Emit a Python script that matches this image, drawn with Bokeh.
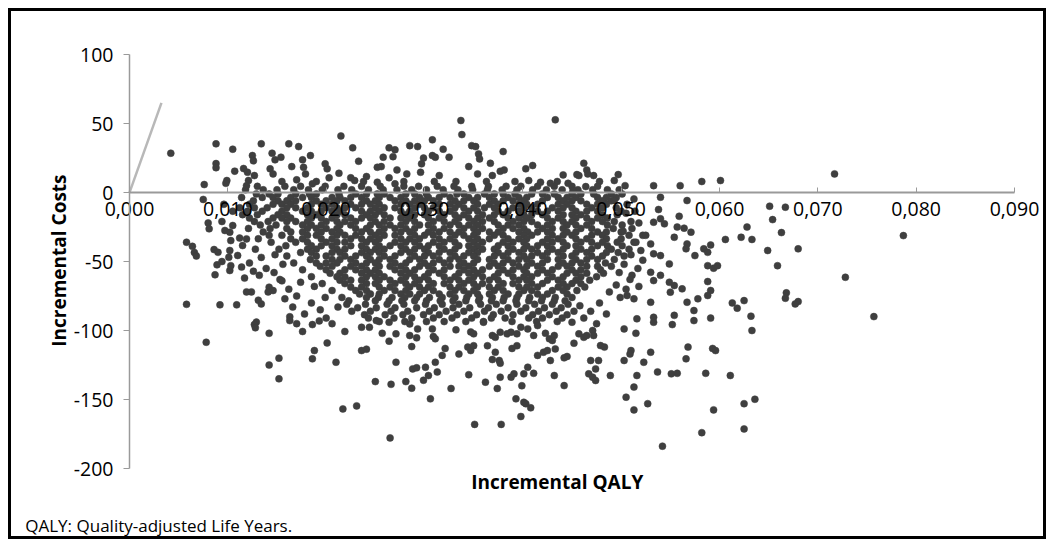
import math
from bokeh.plotting import figure
from bokeh.models import Range1d, FixedTicker, Label
from bokeh.embed import file_html
from bokeh.resources import INLINE

# ---- axes ----
x_ticks = [0, 10, 20, 30, 40, 50, 60, 70, 80, 90]          # incremental QALY in 1/1000
x_tick_labels = ["0,000", "0,010", "0,020", "0,030", "0,040", "0,050",
                 "0,060", "0,070", "0,080", "0,090"]
y_ticks = [100, 50, 0, -50, -100, -150, -200]
y_tick_labels = ["100", "50", "0", "-50", "-100", "-150", "-200"]

# willingness-to-pay threshold line (QALY x1000, cost)
wtp_qaly = [0, 3.25]
wtp_cost = [0, 65]

# ---- dense core of the cloud, read band by band (cost level -> QALY x1000 values) ----
core_cost = [8, 4.5, 2, -1, -3.5, -6, -8.5, -11, -13.5, -16, -18.5, -21, -23.5, -26,
             -28.5, -31, -33.5, -36, -38.5, -41, -43.5, -46, -48.5, -51, -53.5, -56,
             -58.5, -61, -63.5, -66, -68.5, -71, -73.5, -76, -78.5, -81, -83.5, -86,
             -88.5, -91, -93.5]
core_qaly = [
    [15.5, 19.0, 23.8, 27.9, 31.0, 33.2, 36.3, 39.2, 43.5, 47.8],
    [13.0, 15.8, 17.4, 19.9, 21.8, 23.6, 25.5, 27.9, 29.4, 31.3, 33.0, 34.8, 36.5, 38.3, 39.8, 41.5, 43.2, 45.0, 47.6],
    [11.8, 13.6, 15.0, 16.7, 18.2, 19.6, 21.2, 22.6, 24.3, 25.8, 27.2, 28.7, 30.2, 31.9, 33.4, 34.9, 36.4, 37.9, 39.4, 41.0, 42.4, 44.0, 45.6, 47.1, 48.6],
    [12.9, 14.2, 15.1, 16.9, 18.3, 19.0, 21.3, 23.0, 24.1, 25.2, 25.9, 28.1, 29.0, 30.2, 32.0, 33.3, 34.0, 36.1, 37.1, 38.0, 39.2, 40.9, 42.0, 43.2, 45.0, 45.9, 47.2, 49.0, 50.1],
    [11.4, 13.5, 14.6, 16.4, 17.6, 18.5, 20.6, 21.4, 22.5, 23.6, 25.4, 26.5, 27.6, 29.5, 30.4, 31.5, 32.6, 34.5, 35.4, 36.6, 38.5, 39.6, 40.4, 42.5, 43.6, 44.5, 45.4, 47.6, 48.5, 49.5],
    [12.6, 15.1, 16.0, 16.9, 19.0, 20.0, 21.1, 21.9, 24.1, 25.0, 27.0, 28.1, 29.0, 30.0, 30.9, 33.1, 34.0, 35.0, 37.1, 38.0, 39.0, 40.1, 42.0, 44.1, 45.0, 45.9, 48.1, 49.0],
    [9.6, 12.2, 14.6, 15.5, 16.4, 18.5, 19.5, 20.6, 22.5, 23.6, 24.5, 25.4, 27.6, 28.5, 29.5, 31.5, 32.6, 33.5, 35.4, 36.6, 37.5, 39.6, 40.4, 41.5, 43.6, 44.5, 46.5, 47.6, 48.5, 50.6],
    [11.2, 12.7, 14.0, 16.0, 16.9, 18.1, 20.0, 21.1, 21.9, 23.0, 25.0, 25.9, 27.0, 29.0, 30.0, 30.9, 33.1, 34.0, 35.0, 36.1, 37.1, 39.0, 40.1, 40.9, 43.0, 44.1, 45.0, 47.0, 48.1, 49.5],
    [10.5, 12.0, 13.5, 15.5, 17.6, 18.5, 19.5, 20.6, 21.4, 23.6, 24.5, 25.4, 27.6, 28.5, 30.4, 31.5, 32.6, 34.5, 35.4, 37.5, 38.5, 39.6, 41.5, 42.5, 43.6, 45.4, 46.5, 47.6, 50.0, 51.4],
    [11.5, 13.0, 15.1, 16.0, 18.1, 19.0, 21.1, 21.9, 24.1, 25.0, 25.9, 28.1, 29.0, 30.0, 32.0, 33.1, 34.0, 35.9, 37.1, 38.0, 40.1, 40.9, 42.0, 44.1, 45.0, 45.9, 48.1, 49.6],
    [12.2, 14.6, 15.5, 16.4, 18.5, 19.5, 20.6, 22.5, 23.6, 24.5, 26.5, 27.6, 28.5, 30.4, 31.5, 33.5, 34.5, 35.4, 36.6, 38.5, 39.6, 40.4, 42.5, 43.6, 45.4, 46.5, 47.6, 48.6],
    [9.4, 12.7, 14.1, 16.0, 16.9, 18.1, 20.0, 21.1, 21.9, 23.0, 25.0, 25.9, 28.1, 29.0, 30.9, 32.0, 33.1, 35.0, 35.9, 37.1, 39.0, 40.1, 40.9, 43.0, 44.1, 45.0, 47.0, 48.1, 49.3, 51.0],
    [13.3, 14.9, 17.6, 18.5, 19.5, 21.4, 22.5, 24.5, 25.4, 26.5, 27.6, 29.5, 30.4, 32.6, 33.5, 34.5, 35.4, 37.5, 38.5, 39.6, 41.5, 42.5, 44.5, 45.4, 46.5, 48.6, 50.1],
    [12.1, 14.3, 16.0, 18.1, 19.0, 20.0, 21.1, 23.0, 24.1, 25.9, 27.0, 28.1, 29.0, 30.9, 32.0, 34.0, 35.0, 35.9, 38.0, 39.0, 40.1, 42.0, 43.0, 44.1, 45.9, 47.0, 49.2, 51.1],
    [13.6, 16.4, 17.6, 19.5, 20.6, 21.4, 23.6, 24.5, 25.4, 27.6, 28.5, 30.4, 31.5, 32.6, 33.5, 35.4, 36.6, 37.5, 39.6, 40.5, 41.5, 42.5, 44.5, 45.4, 47.6, 48.5, 50.0],
    [14.2, 15.5, 18.1, 19.0, 21.1, 21.9, 23.0, 25.0, 25.9, 27.0, 29.0, 30.0, 30.9, 33.1, 34.0, 35.0, 37.1, 38.0, 40.1, 40.9, 43.0, 44.1, 45.0, 47.0, 48.1, 50.8, 52.2],
    [13.1, 16.4, 17.6, 19.5, 20.6, 22.5, 23.6, 24.5, 25.4, 27.6, 28.5, 29.5, 31.5, 32.6, 34.5, 35.4, 36.6, 38.5, 39.6, 40.4, 42.5, 43.6, 45.4, 46.5, 48.5, 50.0],
    [14.4, 16.9, 18.1, 20.0, 21.1, 21.9, 24.1, 25.0, 27.0, 28.1, 29.0, 30.9, 32.0, 33.1, 35.0, 35.9, 38.0, 39.0, 40.1, 42.0, 43.0, 44.1, 45.9, 47.0, 48.1, 49.6, 51.3],
    [15.9, 18.5, 19.5, 20.6, 22.5, 23.6, 25.4, 26.5, 27.6, 29.5, 30.4, 31.5, 33.5, 34.5, 35.4, 37.5, 38.5, 40.4, 41.5, 42.5, 44.5, 45.4, 47.6, 48.6, 50.1],
    [15.2, 18.1, 19.0, 21.1, 21.9, 24.1, 25.0, 25.9, 28.1, 29.0, 30.0, 32.0, 33.1, 35.0, 35.9, 37.1, 39.0, 40.1, 40.9, 43.0, 44.1, 45.9, 47.0, 49.0, 50.8],
    [17.4, 18.5, 20.6, 21.4, 23.6, 24.5, 25.4, 27.6, 28.5, 30.4, 31.5, 32.6, 34.5, 35.4, 37.5, 38.5, 39.6, 41.5, 42.5, 43.6, 45.4, 46.5, 48.5, 49.7],
    [16.0, 19.0, 20.0, 21.9, 23.0, 24.1, 25.9, 27.0, 29.0, 30.0, 30.9, 33.1, 34.0, 35.0, 37.1, 38.0, 40.1, 40.9, 42.0, 44.1, 45.0, 47.0, 48.1, 50.3],
    [18.4, 20.6, 21.4, 22.5, 24.5, 25.4, 26.5, 28.5, 29.5, 31.5, 32.6, 33.5, 35.4, 36.6, 38.5, 39.6, 40.4, 42.5, 43.6, 45.4, 46.5, 47.6, 49.3],
    [16.7, 19.0, 20.0, 21.1, 23.0, 24.1, 25.0, 27.0, 28.1, 30.0, 30.9, 32.0, 34.0, 35.0, 37.1, 38.0, 39.0, 40.9, 42.0, 44.1, 45.0, 45.9, 48.4],
    [19.4, 20.6, 22.5, 23.6, 25.4, 26.5, 27.6, 29.5, 30.4, 32.6, 33.5, 34.5, 36.6, 37.5, 39.6, 40.4, 41.5, 43.6, 44.5, 46.5, 47.6, 49.0],
    [17.6, 20.0, 21.9, 23.0, 24.1, 25.0, 27.0, 28.1, 29.0, 30.9, 32.0, 34.0, 35.0, 35.9, 38.0, 39.0, 40.1, 42.0, 43.0, 45.0, 45.9, 47.9],
    [20.4, 21.4, 23.6, 24.5, 25.4, 27.6, 28.5, 30.4, 31.5, 33.5, 34.5, 35.4, 37.5, 38.5, 40.4, 41.5, 42.5, 44.5, 45.4, 46.5, 48.2],
    [18.5, 21.1, 21.9, 24.1, 25.0, 25.9, 28.1, 29.0, 30.0, 32.0, 33.1, 35.0, 35.9, 37.1, 39.0, 40.1, 40.9, 43.0, 44.1, 45.9, 47.5],
    [21.4, 22.5, 23.6, 25.4, 26.5, 27.6, 29.5, 30.4, 32.6, 33.5, 34.5, 36.6, 37.5, 39.6, 40.4, 42.5, 43.6, 45.4, 46.8],
    [19.6, 21.9, 24.1, 25.0, 27.0, 28.1, 29.0, 30.9, 32.0, 34.0, 35.0, 35.9, 38.0, 39.0, 40.9, 42.0, 44.1, 45.0, 45.9],
    [22.5, 23.6, 25.4, 26.5, 28.5, 29.5, 30.4, 32.6, 33.5, 35.4, 36.6, 37.5, 39.6, 40.4, 41.5, 43.6, 44.5, 46.3],
    [20.6, 23.0, 24.1, 25.9, 27.0, 28.1, 30.0, 30.9, 33.1, 34.0, 35.0, 37.1, 38.0, 40.1, 40.9, 43.0, 44.1, 45.5],
    [23.4, 24.5, 25.4, 27.6, 28.5, 29.5, 31.5, 32.6, 34.5, 35.4, 36.6, 38.5, 39.6, 41.5, 42.5, 44.5],
    [21.6, 24.1, 25.3, 26.7, 28.0, 29.2, 30.5, 31.8, 33.1, 34.3, 35.6, 36.9, 38.1, 39.4, 40.7, 42.0, 43.3, 45.0],
    [22.3, 25.0, 26.4, 27.7, 29.0, 30.2, 31.6, 32.9, 34.2, 35.5, 36.8, 38.0, 39.3, 40.6, 41.9, 43.2, 44.3],
    [22.1, 24.0, 26.2, 27.9, 30.1, 31.8, 33.5, 35.7, 37.3, 39.4, 41.2, 43.0, 44.6],
    [23.2, 25.1, 27.0, 29.2, 31.0, 32.9, 34.6, 36.5, 38.5, 40.3, 42.2, 43.9],
    [22.6, 24.5, 26.6, 28.3, 30.5, 32.2, 34.0, 36.1, 37.8, 39.8, 41.6, 43.4, 45.2],
    [23.9, 26.0, 27.8, 29.9, 31.5, 33.3, 35.3, 37.0, 39.0, 41.0, 42.7, 44.5],
    [24.3, 26.9, 28.7, 30.9, 32.8, 34.8, 36.8, 38.2, 40.6, 42.0, 44.0],
    [25.4, 28.0, 30.2, 32.0, 34.2, 36.0, 38.9, 41.4, 43.5],
]

# ---- individually read points: (QALY x1000, cost) ----
upper_pts = [(4.2, 28.5), (8.8, 35.3), (8.8, 21), (8.8, 18), (7.6, 5.8), (10.5, 31.4), (9.9, 8.7),
             (9.8, 6.7), (10.7, 15.5), (11.6, 17.4), (12.0, 14.7), (12.5, 26.8), (12.6, 23),
             (13.4, 35.3), (12.1, 8.7), (11.9, 5), (12.7, 12.3), (14.5, 28.5), (14.8, 23.7),
             (15.4, 25.6), (14.3, 17.2), (14.6, 13.5), (16.2, 35.3), (17.2, 33.3), (16.5, 18.8),
             (17.6, 23.7), (17.7, 18.3), (17.9, 13.5), (18.4, 26.8), (17.0, 9.2), (18.6, 6.3),
             (19.9, 20.8), (20.1, 17.2), (20.3, 10.7), (21.3, 14), (21.5, 41), (22.7, 32.4),
             (23.3, 22.7), (22.5, 10.7), (22.9, 8.7), (24.1, 11.6), (25.2, 18.3), (25.6, 18.8),
             (25.8, 25.6), (26.4, 32.4), (27.0, 31), (26.8, 26), (27.2, 16.4), (25.2, 7.5),
             (26.4, 10.7), (27.0, 6.3), (28.2, 13.5), (28.5, 34), (29.3, 33.3), (29.9, 25),
             (29.7, 20.8), (29.6, 14.7), (30.8, 38.2), (30.8, 26.8), (31.1, 25.6), (31.9, 31.4),
             (32.5, 25.6), (31.5, 12.3), (33.7, 52.2), (33.8, 42), (34.5, 18.8), (34.8, 34),
             (35.2, 33.3), (35.5, 28), (35.6, 24.4), (35.4, 13.5), (36.7, 21.2), (38.0, 29.7),
             (36.9, 12.3), (37.7, 15.4), (38.1, 16.4), (40.3, 17.2), (41.0, 19.6), (43.3, 52.7),
             (44.1, 12.8), (44.6, 6.7), (45.5, 13), (40.6, 8.7), (41.8, 7.5), (42.8, 6.7),
             (46.2, 21.2), (46.5, 16.4), (46.6, 13.5), (47.2, 12.3), (45.7, 12.3), (45.1, 1.4),
             (46.4, 4.3), (49.3, 8.7), (49.7, 13), (50.4, 5), (49.8, 2), (53.3, 5), (56.0, 5),
             (58.2, 8), (60.1, 8.7), (71.7, 13.5)]

left_pts = [(7.5, -5), (8.0, -22), (8.1, -26.3), (5.8, -36), (6.4, -39), (6.6, -43.5), (6.8, -46),
            (8.6, -41.3), (9.0, -43.3), (8.9, -52.4), (8.7, -59.6), (9.4, -50), (10.2, -56.5),
            (10.3, -53), (11.0, -45.6), (11.4, -54), (5.8, -81), (9.2, -81.4), (10.9, -81.4),
            (11.7, -62), (13.2, -60), (11.9, -72), (12.4, -72), (12.9, -93.9), (13.1, -78),
            (13.4, -80.7), (14.2, -68.6), (14.6, -71), (14.1, -72), (10.2, -42), (10.1, -46.9),
            (10.3, -34.8), (11.2, -33), (11.9, -33.6), (11.5, -38.4), (10.5, -23.9), (9.7, -27.5),
            (10.2, -28.7), (12.8, -41), (13.4, -47), (12.2, -51), (13.9, -55), (14.7, -58),
            (15.3, -63), (12.6, -57), (14.8, -45), (15.6, -52), (15.5, -64), (16.2, -70),
            (15.8, -77), (17.0, -75), (16.6, -83), (17.8, -88), (18.5, -80), (19.4, -85),
            (20.0, -91), (18.8, -68), (17.4, -65), (19.9, -76), (21.2, -83), (20.6, -95),
            (16.3, -90), (19.3, -93)]

lower_pts = [(12.7, -95.7), (12.8, -98), (14.2, -102), (7.8, -108.5), (15.2, -120), (14.2, -125),
             (15.2, -135), (17.6, -100.7), (18.6, -95.7), (18.8, -114.5), (18.6, -120.5),
             (20.1, -109), (21.0, -123), (21.9, -100.7), (21.7, -156.8), (23.1, -154.6),
             (23.6, -97.6), (24.4, -97.6), (23.6, -114.5), (24.1, -113.5), (25.0, -137),
             (25.7, -102), (26.4, -107.7), (27.1, -102.4), (26.6, -139), (26.5, -177.8),
             (27.1, -123), (28.1, -137), (28.7, -141.8), (28.5, -103.6), (29.2, -105.3),
             (28.7, -111.6), (28.8, -127.8), (29.2, -127), (16.3, -92.8), (17.0, -95),
             (25.1, -92.8), (26.4, -94), (28.5, -95.2), (29.3, -98.8),
             (30.8, -98.8), (30.9, -104.3), (31.1, -106), (33.2, -99.5), (34.7, -101), (35.0, -102.4),
             (36.0, -94), (36.9, -103.6), (37.2, -104.9), (37.7, -101.2), (38.4, -102.4),
             (38.8, -101.2), (39.4, -102.4), (39.8, -97.6), (40.5, -98.8), (41.1, -103.6),
             (41.5, -96.4), (42.3, -102), (42.7, -106), (43.2, -103.6), (43.0, -107.2), (43.3, -113.3),
             (32.1, -113), (31.8, -118), (30.1, -126.6), (29.9, -136), (30.4, -132.6), (31.1, -123),
             (31.3, -130), (30.6, -149.5), (32.7, -142), (33.5, -117), (34.4, -112), (34.7, -114.5),
             (35.0, -111), (34.5, -132), (36.2, -137.4), (36.4, -111), (37.2, -115.7), (36.9, -121),
             (37.6, -121.7), (37.7, -123.7), (37.4, -142), (37.7, -133.8), (35.1, -168), (37.8, -168),
             (38.9, -113), (39.4, -111), (38.8, -133.8), (39.1, -131.4), (40.1, -131.4),
             (40.5, -126.6), (41.1, -131), (39.9, -140), (39.3, -149.5), (40.1, -152), (40.3, -153),
             (40.8, -156), (39.8, -162.3), (41.5, -118), (42.1, -115.7), (42.5, -114.5),
             (43.2, -132.6), (44.2, -139.9), (44.5, -118.8), (44.2, -119.8), (42.8, -121.7),
             (45.2, -109.2), (45.7, -102.4), (46.2, -104.9), (46.5, -103.6), (47.1, -100),
             (47.2, -103.6), (47.9, -110.9), (48.3, -112), (46.9, -121.7), (47.7, -121.7),
             (47.4, -127.8), (46.7, -131.4), (47.1, -133.8), (47.4, -136.2), (48.9, -132.6),
             (45.8, -82), (46.9, -86), (47.8, -80), (46.2, -91), (47.5, -95), (45.0, -94), (48.5, -88)]

right_pts = [(50.3, -121.7), (51.0, -114.5), (50.9, -117), (51.6, -132.6), (52.3, -123), (51.3, -141),
             (50.5, -148.3), (51.3, -157.5), (52.7, -153), (53.0, -115.7), (53.7, -130), (55.1, -131.4),
             (55.7, -131), (56.6, -120.5), (56.8, -112), (58.6, -131), (59.3, -113), (59.6, -114.5),
             (59.4, -157.5), (58.2, -174), (54.2, -183.8), (50.3, -98.8), (51.5, -102), (53.3, -94),
             (55.2, -95.7), (57.4, -92.8), (63.3, -100), (61.1, -132.6), (62.5, -153), (63.6, -149.8),
             (62.5, -171.3), (65.1, -9.9), (66.7, -10.6), (65.4, -19.6), (62.8, -25), (62.2, -32.4),
             (63.3, -34), (60.6, -34), (66.3, -29), (64.9, -42), (68.0, -40.8), (78.7, -31.2),
             (65.9, -53), (59.4, -54.8), (59.8, -53), (72.8, -61.4), (66.8, -72.7), (66.7, -76.6),
             (68.0, -79), (67.7, -80.7), (61.3, -80), (61.8, -83.8), (62.5, -78.3), (63.2, -89.6),
             (75.7, -89.9), (59.1, -38), (59.1, -71), (59.1, -91), (49.3, -5.8), (51.3, -4.6),
             (54.0, -3.4), (56.7, -5.8), (53.8, -12.3), (54.0, -19), (53.3, -21.5), (54.4, -22.7),
             (55.9, -17.2), (55.7, -25), (56.4, -25.8), (57.1, -28.7), (55.4, -32.4), (56.7, -37.2),
             (56.6, -40.8), (57.5, -45.7), (58.4, -40.8), (58.8, -43.3), (58.8, -53), (53.0, -37.2),
             (52.0, -42), (53.3, -44.4), (54.0, -45.7), (54.9, -51.7), (51.1, -60), (53.0, -57.8),
             (54.0, -60), (53.3, -63.8), (54.9, -65), (55.4, -67.4), (55.0, -72.2), (56.2, -69.8),
             (57.8, -77), (58.8, -74.6), (58.8, -64.5), (56.7, -79.5), (57.4, -85.5), (55.4, -89),
             (53.3, -90.4), (51.6, -91.5), (53.0, -79.5), (51.3, -77), (50.6, -74.6),
             (51.0, -45), (50.3, -52), (51.7, -55), (49.8, -58), (50.9, -63), (49.5, -67), (50.5, -70),
             (52.2, -49), (48.8, -72), (49.9, -76), (51.8, -68), (50.5, -15), (51.8, -22), (50.2, -28),
             (52.5, -31), (51.5, -36)]

# ---- assemble ----
qaly, cost = [], []
for c, row in zip(core_cost, core_qaly):
    for q in row:
        qaly.append(q)
        cost.append(c)
for group in (upper_pts, left_pts, lower_pts, right_pts):
    for q, c in group:
        qaly.append(q)
        cost.append(c)

FONT = "Open Sans"
AXIS_GREY = "#9a9a9a"

# the frame fills the whole canvas; both axes cross at (0, 0)
p = figure(width=1038, height=531, output_backend="svg", toolbar_location=None,
           x_range=Range1d(-12.0, 93.56), y_range=Range1d(-253.6, 131.2),
           min_border=0, min_border_left=0, min_border_right=0,
           min_border_top=0, min_border_bottom=0)
p.styles = {"border": "3px solid black", "margin-left": "8px", "margin-top": "8px"}
p.background_fill_color = "white"
p.border_fill_color = "white"
p.outline_line_color = None
p.xgrid.visible = False
p.ygrid.visible = False

xa = p.xaxis[0]
xa.fixed_location = 0
xa.bounds = (0, 90)
xa.ticker = FixedTicker(ticks=x_ticks)
xa.major_label_overrides = {t: l for t, l in zip(x_ticks, x_tick_labels)}
xa.minor_tick_line_color = None
xa.major_tick_in = 5
xa.major_tick_out = 0
xa.major_tick_line_color = AXIS_GREY
xa.axis_line_color = AXIS_GREY
xa.axis_line_width = 2
xa.major_label_standoff = 9
xa.major_label_text_font = FONT
xa.major_label_text_font_size = "19.5px"
xa.major_label_text_color = "black"

ya = p.yaxis[0]
ya.fixed_location = 0
ya.bounds = (-200, 100)
ya.ticker = FixedTicker(ticks=y_ticks)
ya.major_label_overrides = {t: l for t, l in zip(y_ticks, y_tick_labels)}
ya.minor_tick_line_color = None
ya.major_tick_in = 0
ya.major_tick_out = 6
ya.major_tick_line_color = AXIS_GREY
ya.axis_line_color = AXIS_GREY
ya.axis_line_width = 1.5
ya.major_label_standoff = 10
ya.major_label_text_font = FONT
ya.major_label_text_font_size = "19.5px"
ya.major_label_text_color = "black"

p.line(wtp_qaly, wtp_cost, line_color="#b8b8b8", line_width=2.5)
p.scatter(qaly, cost, marker="circle", size=7, fill_color="#3f3f3f", line_color="#3f3f3f",
          line_width=0.5)

p.add_layout(Label(x=-7.2, y=-49.3, text="Incremental Costs", angle=math.pi / 2,
                   text_align="center", text_baseline="middle", text_font=FONT,
                   text_font_size="19px", text_font_style="bold", text_color="black"))
p.add_layout(Label(x=43.5, y=-209.4, text="Incremental QALY", text_align="center",
                   text_baseline="middle", text_font=FONT, text_font_size="19px",
                   text_font_style="bold", text_color="black"))
p.add_layout(Label(x=-10.6, y=-241.3, text="QALY: Quality-adjusted Life Years.",
                   text_align="left", text_baseline="middle", text_font=FONT,
                   text_font_size="17px", text_color="black"))

open("out.html", "w").write(file_html(p, INLINE))
